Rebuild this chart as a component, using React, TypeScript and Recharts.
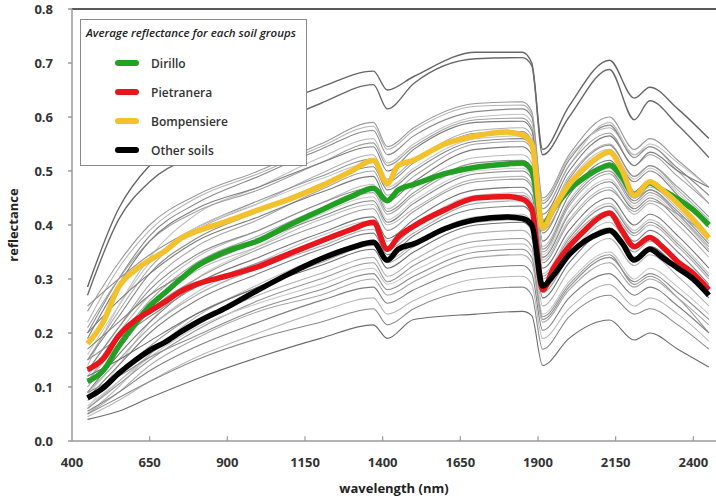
import React from 'react';
import { LineChart, Line, XAxis, YAxis, ReferenceLine, Label } from 'recharts';

// wavelength grid (nm) used for the four group averages
const MEAN_NM = [450, 500, 550, 600, 650, 700, 750, 800, 900, 1000, 1100, 1200, 1300, 1370, 1415, 1450, 1500, 1600, 1700, 1800, 1850, 1880, 1915, 1950, 2000, 2050, 2100, 2130, 2170, 2210, 2260, 2300, 2350, 2400, 2450];

const dirillo = [0.11, 0.13, 0.175, 0.215, 0.25, 0.275, 0.3, 0.323, 0.352, 0.371, 0.4, 0.427, 0.453, 0.468, 0.445, 0.465, 0.475, 0.495, 0.507, 0.513, 0.515, 0.5, 0.4, 0.43, 0.465, 0.488, 0.505, 0.511, 0.489, 0.457, 0.478, 0.465, 0.448, 0.428, 0.4];
const pietranera = [0.132, 0.152, 0.195, 0.222, 0.24, 0.258, 0.277, 0.29, 0.306, 0.323, 0.347, 0.37, 0.392, 0.405, 0.355, 0.378, 0.398, 0.428, 0.45, 0.453, 0.448, 0.43, 0.28, 0.32, 0.36, 0.39, 0.415, 0.422, 0.39, 0.36, 0.377, 0.36, 0.332, 0.31, 0.28];
const bompensiere = [0.18, 0.22, 0.285, 0.315, 0.335, 0.352, 0.375, 0.388, 0.407, 0.428, 0.448, 0.472, 0.5, 0.52, 0.477, 0.51, 0.52, 0.55, 0.565, 0.572, 0.567, 0.55, 0.395, 0.43, 0.475, 0.505, 0.528, 0.535, 0.502, 0.455, 0.48, 0.465, 0.44, 0.41, 0.376];
const otherSoils = [0.08, 0.098, 0.125, 0.148, 0.168, 0.183, 0.202, 0.219, 0.248, 0.28, 0.31, 0.337, 0.358, 0.368, 0.335, 0.355, 0.365, 0.393, 0.41, 0.415, 0.412, 0.4, 0.287, 0.307, 0.345, 0.37, 0.385, 0.39, 0.367, 0.335, 0.355, 0.34, 0.32, 0.3, 0.27];

// individual sample spectra (grey), coarser grid
const GREY_NM = [450, 550, 650, 800, 1000, 1200, 1370, 1415, 1500, 1700, 1850, 1880, 1915, 2000, 2130, 2210, 2260, 2350, 2450];

const g01 = [0.285, 0.43, 0.51, 0.56, 0.61, 0.655, 0.685, 0.65, 0.675, 0.72, 0.72, 0.7, 0.54, 0.62, 0.705, 0.635, 0.655, 0.615, 0.56];
const g02 = [0.27, 0.41, 0.48, 0.53, 0.575, 0.625, 0.66, 0.615, 0.662, 0.708, 0.71, 0.695, 0.53, 0.6, 0.688, 0.595, 0.63, 0.585, 0.525];
const g03 = [0.24, 0.33, 0.4, 0.455, 0.5, 0.55, 0.59, 0.545, 0.58, 0.625, 0.628, 0.61, 0.45, 0.53, 0.6, 0.54, 0.56, 0.52, 0.47];
const g04 = [0.22, 0.32, 0.39, 0.45, 0.495, 0.545, 0.583, 0.54, 0.575, 0.62, 0.622, 0.605, 0.445, 0.525, 0.58, 0.53, 0.545, 0.5, 0.44];
const g05 = [0.2, 0.3, 0.38, 0.44, 0.49, 0.54, 0.575, 0.53, 0.565, 0.61, 0.615, 0.6, 0.44, 0.52, 0.585, 0.525, 0.545, 0.505, 0.455];
const g06 = [0.14, 0.25, 0.34, 0.42, 0.47, 0.525, 0.56, 0.515, 0.55, 0.6, 0.605, 0.59, 0.43, 0.51, 0.59, 0.53, 0.55, 0.515, 0.47];
const g07 = [0.21, 0.3, 0.37, 0.425, 0.465, 0.515, 0.552, 0.51, 0.545, 0.595, 0.598, 0.58, 0.43, 0.51, 0.57, 0.51, 0.53, 0.49, 0.44];
const g08 = [0.19, 0.29, 0.37, 0.43, 0.47, 0.515, 0.545, 0.5, 0.54, 0.59, 0.592, 0.575, 0.42, 0.5, 0.565, 0.51, 0.535, 0.5, 0.47];
const g09 = [0.15, 0.24, 0.32, 0.39, 0.44, 0.495, 0.53, 0.485, 0.52, 0.575, 0.58, 0.565, 0.41, 0.49, 0.55, 0.49, 0.51, 0.465, 0.41];
const g10 = [0.25, 0.3, 0.345, 0.395, 0.445, 0.49, 0.522, 0.48, 0.515, 0.57, 0.573, 0.557, 0.4, 0.485, 0.548, 0.49, 0.51, 0.47, 0.415];
const g11 = [0.16, 0.25, 0.33, 0.395, 0.44, 0.485, 0.515, 0.47, 0.505, 0.56, 0.565, 0.55, 0.4, 0.48, 0.54, 0.485, 0.505, 0.46, 0.405];
const g12 = [0.15, 0.23, 0.31, 0.375, 0.425, 0.475, 0.508, 0.465, 0.5, 0.555, 0.56, 0.545, 0.385, 0.47, 0.535, 0.48, 0.5, 0.455, 0.395];
const g13 = [0.13, 0.21, 0.29, 0.36, 0.41, 0.465, 0.5, 0.455, 0.49, 0.55, 0.555, 0.54, 0.39, 0.465, 0.51, 0.45, 0.465, 0.42, 0.355];
const g14 = [0.2, 0.26, 0.31, 0.37, 0.415, 0.46, 0.49, 0.445, 0.48, 0.54, 0.545, 0.53, 0.37, 0.455, 0.52, 0.46, 0.48, 0.44, 0.38];
const g15 = [0.12, 0.2, 0.27, 0.34, 0.39, 0.44, 0.475, 0.43, 0.47, 0.525, 0.53, 0.515, 0.36, 0.445, 0.505, 0.45, 0.47, 0.43, 0.37];
const g16 = [0.13, 0.21, 0.28, 0.345, 0.39, 0.44, 0.468, 0.425, 0.46, 0.515, 0.52, 0.505, 0.355, 0.44, 0.5, 0.445, 0.465, 0.425, 0.365];
const g17 = [0.11, 0.19, 0.26, 0.33, 0.38, 0.43, 0.46, 0.42, 0.455, 0.51, 0.515, 0.5, 0.35, 0.435, 0.495, 0.44, 0.46, 0.42, 0.36];
const g18 = [0.06, 0.14, 0.22, 0.3, 0.36, 0.42, 0.452, 0.41, 0.445, 0.5, 0.505, 0.49, 0.345, 0.425, 0.485, 0.435, 0.455, 0.415, 0.355];
const g19 = [0.17, 0.22, 0.27, 0.32, 0.37, 0.415, 0.445, 0.405, 0.44, 0.495, 0.5, 0.485, 0.34, 0.42, 0.48, 0.43, 0.45, 0.41, 0.35];
const g20 = [0.11, 0.18, 0.25, 0.315, 0.36, 0.41, 0.438, 0.4, 0.43, 0.485, 0.49, 0.475, 0.335, 0.41, 0.47, 0.42, 0.44, 0.4, 0.34];
const g21 = [0.1, 0.17, 0.24, 0.3, 0.355, 0.4, 0.43, 0.39, 0.425, 0.48, 0.485, 0.47, 0.33, 0.405, 0.465, 0.425, 0.445, 0.42, 0.38];
const g22 = [0.09, 0.16, 0.22, 0.29, 0.34, 0.385, 0.415, 0.375, 0.41, 0.465, 0.47, 0.455, 0.32, 0.39, 0.45, 0.4, 0.42, 0.38, 0.32];
const g23 = [0.085, 0.15, 0.21, 0.275, 0.33, 0.38, 0.408, 0.37, 0.4, 0.455, 0.46, 0.445, 0.31, 0.38, 0.44, 0.39, 0.41, 0.37, 0.31];
const g24 = [0.15, 0.19, 0.23, 0.285, 0.33, 0.37, 0.4, 0.36, 0.395, 0.45, 0.455, 0.44, 0.305, 0.375, 0.435, 0.385, 0.405, 0.365, 0.305];
const g25 = [0.09, 0.15, 0.21, 0.27, 0.32, 0.36, 0.392, 0.355, 0.385, 0.44, 0.445, 0.43, 0.3, 0.37, 0.425, 0.38, 0.4, 0.36, 0.3];
const g26 = [0.08, 0.14, 0.2, 0.26, 0.31, 0.355, 0.385, 0.345, 0.38, 0.43, 0.435, 0.42, 0.29, 0.36, 0.42, 0.37, 0.39, 0.35, 0.29];
const g27 = [0.05, 0.1, 0.16, 0.23, 0.29, 0.34, 0.37, 0.335, 0.365, 0.415, 0.42, 0.405, 0.28, 0.345, 0.405, 0.355, 0.375, 0.335, 0.28];
const g28 = [0.075, 0.125, 0.175, 0.235, 0.285, 0.33, 0.362, 0.33, 0.36, 0.405, 0.41, 0.395, 0.275, 0.34, 0.395, 0.35, 0.37, 0.33, 0.275];
const g29 = [0.12, 0.15, 0.185, 0.235, 0.285, 0.325, 0.355, 0.32, 0.35, 0.4, 0.405, 0.39, 0.265, 0.33, 0.39, 0.34, 0.36, 0.32, 0.265];
const g30 = [0.06, 0.11, 0.16, 0.22, 0.27, 0.31, 0.34, 0.305, 0.335, 0.385, 0.39, 0.375, 0.25, 0.315, 0.375, 0.325, 0.345, 0.305, 0.25];
const g31 = [0.06, 0.105, 0.15, 0.205, 0.26, 0.3, 0.33, 0.295, 0.325, 0.37, 0.375, 0.36, 0.23, 0.29, 0.345, 0.29, 0.305, 0.265, 0.2];
const g32 = [0.065, 0.11, 0.155, 0.21, 0.255, 0.29, 0.32, 0.29, 0.315, 0.36, 0.365, 0.35, 0.235, 0.295, 0.35, 0.3, 0.32, 0.285, 0.235];
const g33 = [0.09, 0.12, 0.155, 0.195, 0.245, 0.28, 0.31, 0.28, 0.305, 0.35, 0.355, 0.34, 0.225, 0.285, 0.34, 0.295, 0.31, 0.275, 0.225];
const g34 = [0.05, 0.09, 0.14, 0.19, 0.24, 0.27, 0.3, 0.27, 0.295, 0.34, 0.345, 0.33, 0.22, 0.28, 0.33, 0.285, 0.3, 0.265, 0.215];
const g35 = [0.055, 0.09, 0.13, 0.175, 0.22, 0.26, 0.285, 0.255, 0.28, 0.32, 0.325, 0.31, 0.205, 0.265, 0.31, 0.27, 0.285, 0.25, 0.2];
const g36 = [0.045, 0.075, 0.11, 0.155, 0.2, 0.24, 0.265, 0.235, 0.26, 0.3, 0.305, 0.29, 0.19, 0.245, 0.29, 0.25, 0.265, 0.235, 0.185];
const g37 = [0.05, 0.08, 0.11, 0.15, 0.19, 0.22, 0.245, 0.215, 0.245, 0.28, 0.285, 0.27, 0.17, 0.23, 0.27, 0.235, 0.245, 0.215, 0.17];
const g38 = [0.04, 0.055, 0.08, 0.115, 0.155, 0.19, 0.215, 0.19, 0.225, 0.235, 0.24, 0.232, 0.14, 0.19, 0.224, 0.187, 0.2, 0.17, 0.137];

const GREY_SERIES = [g01, g02, g03, g04, g05, g06, g07, g08, g09, g10, g11, g12, g13, g14, g15, g16, g17, g18, g19, g20,
  g21, g22, g23, g24, g25, g26, g27, g28, g29, g30, g31, g32, g33, g34, g35, g36, g37, g38];

const X_TICKS = [400, 650, 900, 1150, 1400, 1650, 1900, 2150, 2400];
const Y_TICKS = [0, 0.1, 0.2, 0.3, 0.4, 0.5, 0.6, 0.7, 0.8];

const GREY_TONES = ['#666', '#6a6a6a', '#9a9a9a', '#b5b5b5', '#8a8a8a', '#c0c0c0', '#a0a0a0', '#7d7d7d', '#b0b0b0', '#959595',
  '#c8c8c8', '#888', '#a5a5a5', '#7a7a7a', '#bbb', '#909090', '#a8a8a8', '#cfcfcf', '#858585', '#b8b8b8',
  '#9d9d9d', '#777', '#c3c3c3', '#929292', '#ababab', '#808080', '#bdbdbd', '#a2a2a2', '#6f6f6f', '#b2b2b2',
  '#989898', '#c6c6c6', '#8e8e8e', '#a6a6a6', '#7f7f7f', '#b9b9b9', '#8a8a8a', '#6c6c6c'];

// legend order; drawing order differs a bit (yellow sits over green)
const GROUPS = [
  { key: 'dirillo', name: 'Dirillo', color: '#22a024' },
  { key: 'pietranera', name: 'Pietranera', color: '#e8161c' },
  { key: 'bompensiere', name: 'Bompensiere', color: '#f3c12b' },
  { key: 'otherSoils', name: 'Other soils', color: '#000' },
];
const DRAW_ORDER = ['dirillo', 'bompensiere', 'pietranera', 'otherSoils'];

const FONT = '"Open Sans", "Liberation Sans", sans-serif';

export default function App() {
  const means = MEAN_NM.map((nm, i) => ({
    nm,
    dirillo: dirillo[i],
    pietranera: pietranera[i],
    bompensiere: bompensiere[i],
    otherSoils: otherSoils[i],
  }));
  const greys = GREY_SERIES.map((vals) => GREY_NM.map((nm, i) => ({ nm, r: vals[i] })));

  return (
    <div style={{ position: 'absolute', left: 0, top: 0, width: 716, height: 503, background: '#fff', fontFamily: FONT }}>
      <LineChart width={716} height={503} data={means} margin={{ top: 9, right: 0, bottom: 10, left: 0 }}>
        <XAxis
          dataKey="nm"
          type="number"
          domain={[400, 2473]}
          ticks={X_TICKS}
          stroke="#9a9a9a"
          strokeWidth={1.5}
          tickLine={false}
          tickSize={0}
          tickMargin={17}
          height={52}
          tick={{ fill: '#333', fontSize: 13, fontWeight: 700, fontFamily: FONT }}
        >
          <Label value="wavelength (nm)" position="insideBottom" offset={0}
            style={{ fill: '#222', fontSize: 13, fontWeight: 700, fontFamily: FONT }} />
        </XAxis>
        <YAxis
          type="number"
          domain={[0, 0.8]}
          ticks={Y_TICKS}
          width={72}
          stroke="#9a9a9a"
          strokeWidth={1.5}
          tickSize={4}
          tickMargin={15}
          tickFormatter={(v: number) => v.toFixed(1)}
          tick={{ fill: '#333', fontSize: 13, fontWeight: 700, fontFamily: FONT }}
        >
          <Label value="reflectance" angle={-90} position="insideLeft" offset={13}
            style={{ textAnchor: 'middle', fill: '#222', fontSize: 13, fontWeight: 700, fontFamily: FONT }} />
        </YAxis>
        <ReferenceLine y={0.8} stroke="#5a5a5a" strokeWidth={2} />
        {X_TICKS.slice(1).map((t) => (
          <ReferenceLine key={'t' + t} segment={[{ x: t, y: 0 }, { x: t, y: 0.009 }]} stroke="#9a9a9a" strokeWidth={1.2} />
        ))}
        {greys.map((d, i) => (
          <Line
            key={'g' + i}
            data={d}
            dataKey="r"
            type="monotone"
            stroke={GREY_TONES[i % GREY_TONES.length]}
            strokeWidth={i < 2 ? 1.4 : 1.1}
            dot={false}
            activeDot={false}
            legendType="none"
            isAnimationActive={false}
          />
        ))}
        {DRAW_ORDER.map((k) => {
          const g = GROUPS.find((x) => x.key === k)!;
          return (
            <Line
              key={k}
              dataKey={k}
              name={g.name}
              type="monotone"
              stroke={g.color}
              strokeWidth={5.5}
              strokeLinejoin="round"
              dot={false}
              activeDot={false}
              isAnimationActive={false}
            />
          );
        })}
      </LineChart>

      <div style={{
        position: 'absolute', left: 80, top: 19, width: 227, height: 147, boxSizing: 'border-box',
        border: '1px solid #8a8a8a', background: '#fff',
      }}>
        <div style={{
          position: 'absolute', left: 5, top: 5, fontStyle: 'italic', fontWeight: 600, fontSize: 11.5,
          color: '#222', whiteSpace: 'nowrap', lineHeight: '16px',
        }}>
          Average reflectance for each soil groups
        </div>
        {GROUPS.map((g, i) => (
          <div key={g.key} style={{ position: 'absolute', left: 34, top: 34 + i * 29, height: 18, display: 'flex', alignItems: 'center' }}>
            <div style={{ width: 24, height: 6, borderRadius: 3, background: g.color }} />
            <span style={{ marginLeft: 12, fontSize: 12, fontWeight: 600, color: '#333', whiteSpace: 'nowrap' }}>{g.name}</span>
          </div>
        ))}
      </div>
    </div>
  );
}
